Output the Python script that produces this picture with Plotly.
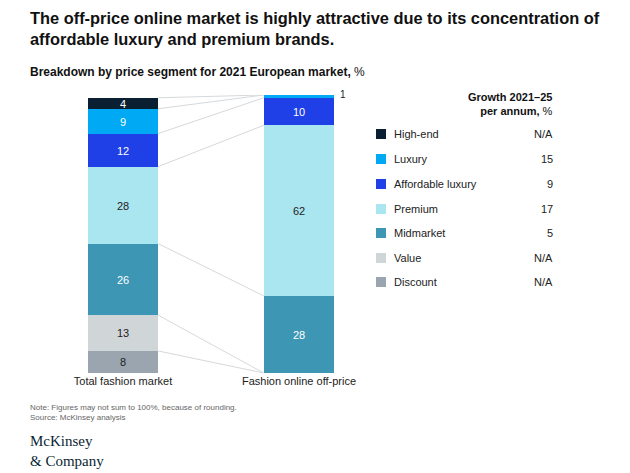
import plotly.graph_objects as go

W, H = 630, 473

segments = ["Discount", "Value", "Midmarket", "Premium", "Affordable luxury", "Luxury", "High-end"]
colors = ["#9aa5b0", "#d0d5d8", "#3c96b4", "#aae6f0", "#1f40e6", "#00a9f4", "#0b1f33"]
text_colors = ["#222", "#222", "white", "#222", "white", "white", "white"]
total_market = [8, 13, 26, 28, 12, 9, 4]
online_offprice = [0, 0, 28, 62, 10, 1, 0]
growth = ["N/A", "N/A", "5", "17", "9", "15", "N/A"]
bar_names = ["Total fashion market", "Fashion online off-price"]

SHIFT = 8   # rendered page sits a little lower than the figure coordinates
XSHIFT = 8  # ... and a little to the right


def px_x(p):
    return (p - XSHIFT) / W


def px_y(p):
    return 1 - (p - SHIFT) / H


fig = go.Figure()
for i, seg in enumerate(segments):
    vals = [total_market[i], online_offprice[i]]
    txt = [str(v) if v >= 3 else "" for v in vals]
    fig.add_trace(go.Bar(
        x=[0, 1], y=vals, width=0.4, name=seg,
        marker=dict(color=colors[i], line=dict(width=0)),
        text=txt, textposition="inside", insidetextanchor="middle",
        constraintext="none",
        textfont=dict(color=text_colors[i], size=11), textangle=0,
        showlegend=False,
    ))

# connector lines between bar boundaries
def cum(vals):
    out, s = [0], 0
    for v in vals:
        s += v
        out.append(s)
    return out

cl, cr = cum(total_market), cum(online_offprice)
for i in range(1, len(segments) + 1):
    fig.add_shape(type="line", xref="x", yref="y", x0=0.2, x1=0.8,
                  y0=cl[i], y1=cr[i], line=dict(color="#d5d9dc", width=1))
# small "1" label for luxury share
fig.add_annotation(x=1.2, y=cr[-1], xref="x", yref="y", text="1", showarrow=False,
                   xanchor="left", xshift=4, font=dict(size=10, color="#222"))

# legend built by hand
rows_y = [282, 258, 233, 209, 184, 159, 134]
for i, seg in enumerate(segments):
    y = rows_y[i]
    fig.add_shape(type="rect", xref="paper", yref="paper",
                  x0=px_x(376), x1=px_x(386), y0=px_y(y + 5), y1=px_y(y - 5),
                  fillcolor=colors[i], line=dict(width=0))
    fig.add_annotation(x=px_x(392), y=px_y(y), xref="paper", yref="paper", text=seg,
                       showarrow=False, xanchor="left", yanchor="middle",
                       font=dict(size=11, color="#222"))
    fig.add_annotation(x=px_x(555), y=px_y(y), xref="paper", yref="paper", text=growth[i],
                       showarrow=False, xanchor="right", yanchor="middle",
                       font=dict(size=11, color="#222"))
fig.add_annotation(x=px_x(555), y=px_y(104), xref="paper", yref="paper",
                   text="<b>Growth 2021–25</b><br><b>per annum,</b> %", align="right",
                   showarrow=False, xanchor="right", yanchor="middle",
                   font=dict(size=11, color="#111"))

texts = [
    (28, 28, "<b>The off-price online market is highly attractive due to its concentration of</b><br><b>affordable luxury and premium brands.</b>", 16.4, "#111"),
    (28, 72, "<b>Breakdown by price segment for 2021 European market,</b> %", 12, "#111"),
    (28, 412, "Note: Figures may not sum to 100%, because of rounding.<br>Source: McKinsey analysis", 8, "#666"),
]
for x, y, t, s, c in texts:
    fig.add_annotation(x=px_x(x), y=px_y(y), xref="paper", yref="paper", text=t, align="left",
                       showarrow=False, xanchor="left", yanchor="middle",
                       font=dict(size=s, color=c))
fig.add_annotation(x=px_x(28), y=px_y(451), xref="paper", yref="paper",
                   text="McKinsey<br>& Company", align="left", showarrow=False,
                   xanchor="left", yanchor="middle",
                   font=dict(size=15, color="#0b1f33", family="Liberation Serif"))

x_dom = 0.6
x_left = (123 - XSHIFT) / 176
fig.update_layout(
    width=W, height=H, barmode="stack", bargap=0,
    margin=dict(l=0, r=0, t=0, b=0),
    paper_bgcolor="white", plot_bgcolor="white",
    font=dict(family="Liberation Sans, Arial", color="#222"),
    xaxis=dict(domain=[0, x_dom], range=[-x_left, W * x_dom / 176 - x_left], tickvals=[0, 1],
               ticktext=bar_names, showgrid=False, zeroline=False, showline=False,
               ticks="", tickfont=dict(size=11, color="#222")),
    yaxis=dict(domain=[(100 + SHIFT) / H, (378 + SHIFT) / H], range=[0, 101], visible=False),
)

fig.write_html("out.html")
